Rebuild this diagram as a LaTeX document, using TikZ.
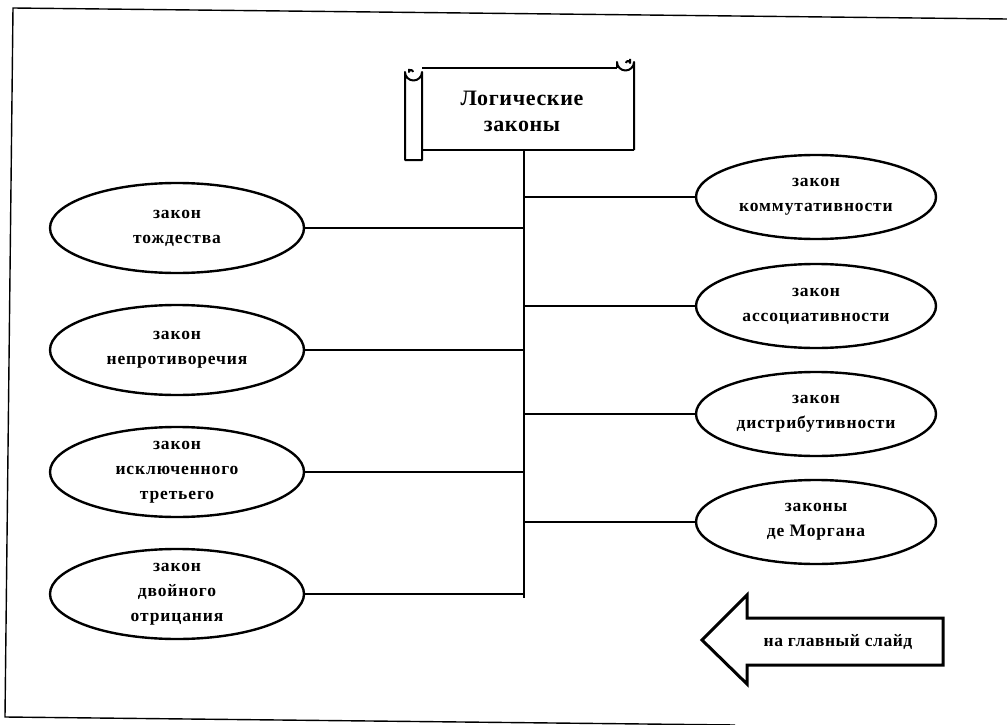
\documentclass[tikz,border=0pt]{standalone}
\usepackage{fontspec}
\setmainfont{Liberation Serif}
\usetikzlibrary{shapes.geometric}
\begin{document}
\begin{tikzpicture}[x=1pt,y=-1pt,
  law/.style={ellipse, draw, line width=2.4pt, minimum width=254pt, minimum height=90pt,
    inner sep=0pt, align=center, font=\fontsize{17.5}{25}\selectfont\bfseries\addfontfeatures{LetterSpace=5}},
  rlaw/.style={law, minimum width=240pt, minimum height=84pt},
  conn/.style={line width=2.2pt},
  scroll/.style={line width=2pt, line join=round},
  frame/.style={line width=1.4pt}]
\useasboundingbox (0,0) rectangle (1007,725);
% page frame (slightly rotated scan)
\draw[frame] (1007,19) -- (13,8) -- (5,717) -- (735,725);
% scroll
\draw[scroll] (422,68) -- (617,68);
\draw[scroll] (422,150) -- (634,150);
\draw[scroll] (405,160) -- (405,72) arc[start angle=180,end angle=0,radius=8.5] -- (422,160) -- cycle;
\draw[scroll] (413,72) arc[start angle=0,end angle=-180,radius=2] -- (409,69);
\draw[scroll] (617,68) -- (617,62) arc[start angle=180,end angle=0,radius=8.5] -- (634,150);
\draw[scroll] (626,63) arc[start angle=180,end angle=360,radius=2] -- (630,59);
\node[font=\fontsize{22}{26}\selectfont\bfseries\addfontfeatures{LetterSpace=3}, align=center] (title) at (522,111) {Логические\\законы};
\coordinate (ttop) at (524,151);
\coordinate (tbot) at (524,598);
\draw[conn] (ttop) -- (tbot);
% left laws
\node[law] (l1) at (177,228) {закон\\тождества};
\node[law] (l2) at (177,350) {закон\\непротиворечия};
\node[law] (l3) at (177,472) {закон\\исключенного\\третьего};
\node[law] (l4) at (177,594) {закон\\двойного\\отрицания};
% right laws
\node[rlaw] (r1) at (816,197) {закон\\коммутативности};
\node[rlaw] (r2) at (816,306) {закон\\ассоциативности};
\node[rlaw] (r3) at (816,414) {закон\\дистрибутивности};
\node[rlaw] (r4) at (816,522) {законы\\де Моргана};
\foreach \n in {l1,l2,l3,l4} \draw[conn] (\n.east) -- (\n.east -| ttop);
\foreach \n in {r1,r2,r3,r4} \draw[conn] (\n.west) -- (\n.west -| ttop);
% back arrow
\draw[line width=3pt, line join=miter] (702,640) -- (747,595) -- (747,618) -- (943,618) -- (943,665) -- (747,665) -- (747,684) -- cycle;
\node[font=\fontsize{17.5}{20}\selectfont\bfseries\addfontfeatures{LetterSpace=3}] (back) at (838,642) {на главный слайд};
\end{tikzpicture}
\end{document}
